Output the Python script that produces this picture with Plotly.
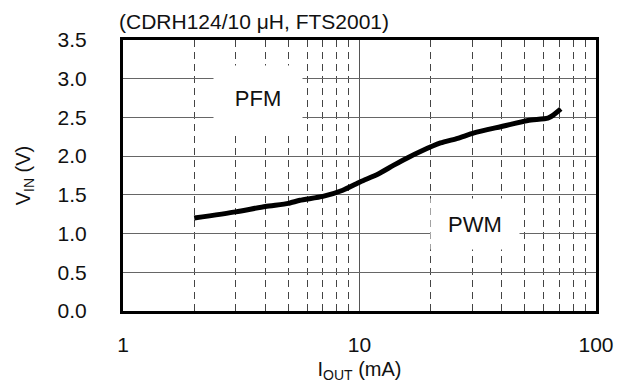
import math
import plotly.graph_objects as go

# Data
iout_ma = [2, 3, 4, 5, 5.6, 7, 8.5, 10.1, 12, 13.9, 16, 18.1, 22, 26, 30.5, 39.5, 51.5, 62.6, 66, 71]
vin_v = [1.2, 1.28, 1.35, 1.39, 1.43, 1.48, 1.56, 1.67, 1.77, 1.88, 1.98, 2.06, 2.17, 2.23, 2.30, 2.38, 2.46, 2.49, 2.53, 2.61]

y_ticks = [0.0, 0.5, 1.0, 1.5, 2.0, 2.5, 3.0, 3.5]
y_tick_labels = ["0.0", "0.5", "1.0", "1.5", "2.0", "2.5", "3.0", "3.5"]
x_ticks = [1, 10, 100]
x_tick_labels = ["1", "10", "100"]

title_text = "(CDRH124/10 \u03bcH, FTS2001)"
region_labels = ["PFM", "PWM"]
region_x = [3.73, 30.8]
region_y = [2.75, 1.12]
region_box_h = [63, 48]

FONT = "Arial, Liberation Sans, sans-serif"

fig = go.Figure()
fig.add_trace(go.Scatter(
    x=iout_ma, y=vin_v, mode="lines",
    line=dict(color="black", width=5, shape="spline", smoothing=0.6),
    showlegend=False, hoverinfo="skip",
))

for lab, lx, ly, bh in zip(region_labels, region_x, region_y, region_box_h):
    fig.add_annotation(
        x=math.log10(lx), y=ly, xref="x", yref="y",
        text=lab, showarrow=False,
        font=dict(family=FONT, size=22, color="#111"),
        bgcolor="white", width=86, height=bh,
    )

fig.add_annotation(
    xref="paper", yref="paper", x=0, y=1, xshift=-6, yshift=5,
    xanchor="left", yanchor="bottom", text=title_text, showarrow=False,
    font=dict(family=FONT, size=21, color="#111"),
)

fig.update_layout(
    width=617, height=375,
    margin=dict(l=115, r=29, t=32, b=72, autoexpand=False),
    paper_bgcolor="white", plot_bgcolor="white",
    font=dict(family=FONT, size=21, color="#111"),
)

fig.update_xaxes(
    type="log", range=[0, 2],
    tickvals=x_ticks, ticktext=x_tick_labels,
    showgrid=True, gridcolor="#555", gridwidth=1,
    minor=dict(dtick="D1", showgrid=True, gridcolor="#444", gridwidth=1,
               griddash="7px,5px", ticks=""),
    showline=True, linecolor="black", linewidth=3, mirror=True,
    ticks="", ticklabelstandoff=13,
    tickfont=dict(size=21),
    title=dict(text="I<sub>OUT</sub> (mA)", font=dict(size=20), standoff=10),
    zeroline=False,
)
fig.update_yaxes(
    range=[0, 3.5],
    tickvals=y_ticks, ticktext=y_tick_labels,
    showgrid=True, gridcolor="#666", gridwidth=1,
    showline=True, linecolor="black", linewidth=3, mirror=True,
    ticks="", ticklabelstandoff=29,
    tickfont=dict(size=21),
    title=dict(text="V<sub>IN</sub> (V)", font=dict(size=20), standoff=22),
    zeroline=False,
)

fig.write_html("out.html")
